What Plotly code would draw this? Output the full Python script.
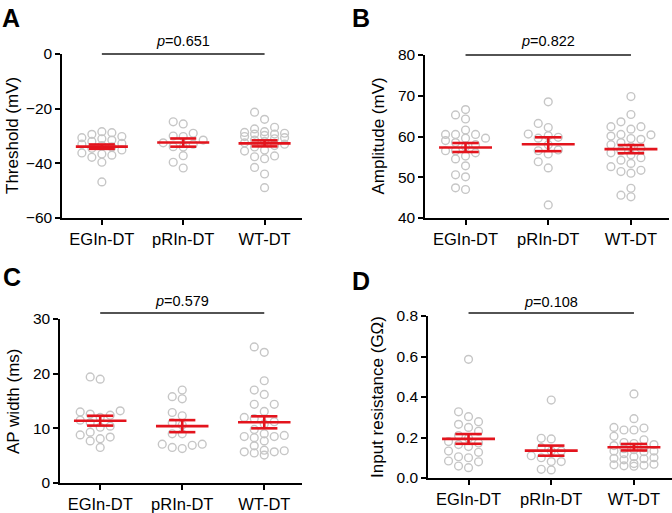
import numpy as np
import plotly.graph_objects as go

W, H = 672, 513
groups = ["EGIn-DT", "pRIn-DT", "WT-DT"]

# ---------------- data ----------------
threshold_egin = [-28.4, -28.8, -29.4, -30.2, -30.6, -31.0, -31.5, -32.0, -32.7, -33.0,
                  -33.5, -34.0, -34.5, -35.1, -36.2, -36.6, -37.0, -37.8, -39.6, -46.8]
threshold_prin = [-24.8, -25.6, -29.0, -30.0, -30.2, -31.5, -32.5, -33.0, -33.9, -34.0,
                  -37.2, -39.6, -41.7]
threshold_wt = [-21.3, -23.9, -26.8, -27.4, -28.4, -28.7, -29.0, -29.3, -29.3, -29.8,
                -30.2, -30.6, -31.0, -31.5, -32.0, -32.5, -33.0, -33.5, -34.0, -35.1,
                -35.5, -37.3, -37.6, -38.3, -41.5, -43.9, -48.9]
threshold_mean = [-33.9, -32.4, -32.7]
threshold_sem = [0.8, 1.5, 1.1]

amplitude_egin = [66.6, 65.3, 64.3, 61.6, 60.5, 60.5, 60.5, 59.6, 59.6, 59.0, 58.5, 58.0,
                  57.5, 56.5, 56.5, 56.0, 55.2, 54.5, 52.8, 50.6, 50.1, 47.0, 47.4]
amplitude_prin = [68.5, 63.2, 62.2, 60.6, 60.2, 59.8, 59.6, 58.0, 56.7, 56.5, 55.7, 53.8,
                  52.3, 43.2]
amplitude_wt = [69.8, 65.4, 63.6, 62.4, 62.4, 61.8, 60.5, 60.4, 60.1, 59.5, 59.3, 58.5,
                58.0, 57.5, 57.1, 56.5, 56.0, 55.5, 54.8, 54.2, 53.4, 52.6, 51.7, 51.4,
                51.0, 47.3, 45.6, 45.2]
amplitude_mean = [57.3, 58.1, 56.9]
amplitude_sem = [1.1, 1.7, 1.0]

width_egin = [19.4, 19.0, 13.2, 13.0, 12.6, 12.4, 12.0, 11.5, 11.0, 10.4, 10.2, 9.3, 8.8,
              8.4, 8.1, 7.7, 6.5]
width_prin = [17.0, 15.8, 15.4, 12.9, 12.3, 11.0, 10.6, 9.0, 9.0, 7.1, 7.1, 6.9, 6.5, 6.3]
width_wt = [24.9, 23.9, 18.7, 17.0, 16.2, 14.4, 14.4, 13.1, 12.0, 11.8, 11.2, 10.8, 9.8,
            9.0, 8.7, 8.5, 8.5, 8.3, 7.7, 6.8, 6.0, 5.9, 5.7, 5.7, 5.5, 5.1]
width_mean = [11.4, 10.4, 11.1]
width_sem = [0.9, 1.1, 1.1]

rin_egin = [0.586, 0.327, 0.303, 0.278, 0.265, 0.250, 0.231, 0.210, 0.196, 0.180, 0.173,
            0.165, 0.155, 0.133, 0.127, 0.105, 0.100, 0.084, 0.080, 0.059, 0.051]
rin_prin = [0.385, 0.196, 0.193, 0.150, 0.133, 0.133, 0.110, 0.100, 0.081, 0.081, 0.043,
            0.040]
rin_wt = [0.415, 0.293, 0.250, 0.247, 0.237, 0.237, 0.206, 0.189, 0.175, 0.170, 0.165,
          0.160, 0.150, 0.145, 0.140, 0.133, 0.133, 0.130, 0.120, 0.105, 0.100, 0.097,
          0.095, 0.090, 0.071, 0.068, 0.065, 0.063, 0.060, 0.058]
rin_mean = [0.193, 0.135, 0.152]
rin_sem = [0.024, 0.025, 0.016]

p_values = ["0.651", "0.822", "0.579", "0.108"]
panel_letters = ["A", "B", "C", "D"]
y_titles = ["Threshold (mV)", "Amplitude (mV)", "AP width (ms)", "Input resistance (GΩ)"]
y_ticks = [[-60, -40, -20, 0], [40, 50, 60, 70, 80], [0, 10, 20, 30],
           [0.0, 0.2, 0.4, 0.6, 0.8]]
y_ranges = [[-60, 0], [40, 80], [0, 30], [0, 0.8]]
sig_levels = [0, 80, 31.1, 0.815]

# ---------------- layout geometry (pixels) ----------------
panels = [
    dict(x=(62, 302), y=(54, 218), title_x=12, letter=(0, 2), ptext_y=41),
    dict(x=(425, 669), y=(55, 218), title_x=378, letter=(350, 2), ptext_y=41),
    dict(x=(60, 302), y=(319, 483), title_x=13, letter=(1, 261), ptext_y=301),
    dict(x=(428, 672), y=(316, 478), title_x=377, letter=(350, 265), ptext_y=302),
]
X_RANGE = [-0.49, 2.46]

series = [
    (threshold_egin, threshold_prin, threshold_wt, threshold_mean, threshold_sem),
    (amplitude_egin, amplitude_prin, amplitude_wt, amplitude_mean, amplitude_sem),
    (width_egin, width_prin, width_wt, width_mean, width_sem),
    (rin_egin, rin_prin, rin_wt, rin_mean, rin_sem),
]

FONT = "Liberation Sans, Arial, Helvetica, sans-serif"
RED = "#E3141D"
GREY = "#c6c6c6"


def swarm(values, px_per_unit, step_units, min_px=8.0, max_col=2):
    """Column swarm: each point goes to the most central free column;
    if all columns are taken, the one with most clearance."""
    vals = np.asarray(values, dtype=float)
    order = np.argsort(vals)
    placed = []
    offs = np.zeros(len(vals))
    cands = [0]
    for j in range(1, max_col + 1):
        cands += [-j, j]
    for i in order:
        ypx = vals[i] * px_per_unit
        best, best_clear = None, -1.0
        for c in cands:
            ds = [abs(py - ypx) for pc, py in placed if pc == c]
            clear = min(ds) if ds else 1e9
            if clear >= min_px:
                best = c
                break
            if clear > best_clear + 0.5:
                best, best_clear = c, clear
        placed.append((best, ypx))
        offs[i] = best * step_units
    return offs


fig = go.Figure()
annotations = []
shapes = []
layout_axes = {}

for k, (pan, ser) in enumerate(zip(panels, series)):
    n = "" if k == 0 else str(k + 1)
    xa, ya = "x" + n, "y" + n
    x0, x1 = pan["x"]
    y0, y1 = pan["y"]
    px_per_x = (x1 - x0) / (X_RANGE[1] - X_RANGE[0])
    rng = y_ranges[k]
    px_per_y = (y1 - y0) / (rng[1] - rng[0])
    step_units = 10.0 / px_per_x

    vals_list = ser[:3]
    means, sems = ser[3], ser[4]
    for g, vals in enumerate(vals_list):
        offs = swarm(vals, px_per_y, step_units)
        fig.add_trace(go.Scatter(
            x=g + offs, y=vals, xaxis=xa, yaxis=ya, mode="markers",
            marker=dict(symbol="circle-open", size=7.8, color=GREY,
                        line=dict(width=1.4, color=GREY)),
            cliponaxis=False, showlegend=False, hoverinfo="y"))
    for g in range(3):
        m, s = means[g], sems[g]
        ex = [g - 0.32, g + 0.32, None, g - 0.16, g + 0.16, None,
              g - 0.16, g + 0.16, None, g, g]
        ey = [m, m, None, m + s, m + s, None, m - s, m - s, None, m - s, m + s]
        fig.add_trace(go.Scatter(
            x=ex, y=ey, xaxis=xa, yaxis=ya, mode="lines",
            line=dict(color=RED, width=2.6), cliponaxis=False,
            showlegend=False, hoverinfo="skip"))

    dom_y = [1 - y1 / H, 1 - y0 / H]
    layout_axes["xaxis" + n] = dict(
        domain=[x0 / W, x1 / W], range=X_RANGE, anchor=ya,
        showline=True, linecolor="black", linewidth=1.5, mirror=False,
        ticks="outside", ticklen=5, tickwidth=1.5, tickcolor="black",
        tickvals=[0, 1, 2], ticktext=groups, showgrid=False, zeroline=False,
        automargin=False,
        tickfont=dict(family=FONT, size=16.5, color="black"), fixedrange=True)
    layout_axes["yaxis" + n] = dict(
        domain=dom_y, range=rng, anchor=xa,
        showline=True, linecolor="black", linewidth=1.5,
        ticks="outside", ticklen=5, tickwidth=1.5, tickcolor="black",
        tickvals=y_ticks[k], showgrid=False, zeroline=False, automargin=False,
        tickformat=".1f" if k == 3 else "d",
        tickfont=dict(family=FONT, size=15.5, color="black"), fixedrange=True)

    # significance bar: level mapped through the panel's own y scale onto paper
    sig_paper = dom_y[0] + (sig_levels[k] - rng[0]) / (rng[1] - rng[0]) * (dom_y[1] - dom_y[0])
    shapes.append(dict(type="line", xref=xa, yref="paper", x0=0, x1=2,
                       y0=sig_paper, y1=sig_paper,
                       line=dict(color="#1a1a1a", width=1.6)))
    annotations.append(dict(
        text="<i>p</i>=" + p_values[k], xref=xa, yref="paper", x=1,
        y=1 - pan["ptext_y"] / H, xanchor="center", yanchor="middle",
        showarrow=False, font=dict(family=FONT, size=14.5, color="black")))
    annotations.append(dict(
        text="<b>" + panel_letters[k] + "</b>", xref="paper", yref="paper",
        x=pan["letter"][0] / W, y=1 - pan["letter"][1] / H,
        xanchor="left", yanchor="top", showarrow=False,
        font=dict(family=FONT, size=25, color="black")))
    annotations.append(dict(
        text=y_titles[k], xref="paper", yref="paper", textangle=-90,
        x=pan["title_x"] / W, y=1 - (y0 + y1) / 2 / H,
        xanchor="center", yanchor="middle", showarrow=False,
        font=dict(family=FONT, size=17, color="black")))

fig.update_layout(
    width=W, height=H,
    margin=dict(l=0, r=0, t=0, b=0, pad=0, autoexpand=False),
    paper_bgcolor="white", plot_bgcolor="white",
    annotations=annotations, shapes=shapes, showlegend=False,
    font=dict(family=FONT, color="black"), **layout_axes)

fig.write_html("out.html", config={"displayModeBar": False},
               post_script="document.body.style.margin='0px';"
                           "document.body.style.overflow='hidden';")
